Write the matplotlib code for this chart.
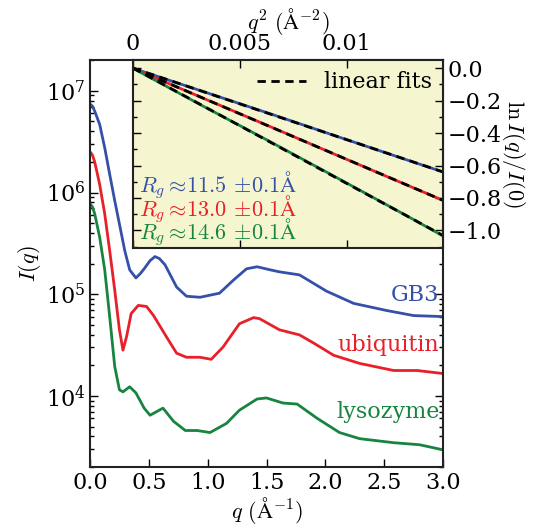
import numpy as np
import matplotlib
matplotlib.use('Agg')
import matplotlib.pyplot as plt
from matplotlib.ticker import FixedLocator, FixedFormatter, LogLocator, MultipleLocator

plt.rcParams['font.family'] = ['DejaVu Serif']
plt.rcParams['mathtext.fontset'] = 'cm'
plt.rcParams['font.size'] = 16

# scattering curves, log10 I(q)
q_gb3 = [0.0, 0.02, 0.04, 0.082, 0.125, 0.167, 0.21, 0.25, 0.295, 0.337, 0.39, 0.425, 0.46, 0.51, 0.552,
         0.59, 0.637, 0.736, 0.82, 0.935, 1.10, 1.22, 1.33, 1.42, 1.53, 1.61, 1.78, 2.01, 2.24, 2.52,
         2.75, 3.0]
logI_gb3 = [6.87, 6.85, 6.80, 6.67, 6.44, 6.18, 5.92, 5.69, 5.43, 5.24, 5.16, 5.20, 5.25, 5.33, 5.37,
            5.35, 5.29, 5.07, 4.98, 4.97, 5.01, 5.14, 5.25, 5.27, 5.24, 5.22, 5.19, 5.03, 4.91, 4.84,
            4.79, 4.78]

q_ubq = [0.0, 0.02, 0.04, 0.082, 0.125, 0.167, 0.21, 0.25, 0.28, 0.31, 0.35, 0.41, 0.48, 0.54, 0.65,
         0.736, 0.82, 0.935, 1.03, 1.13, 1.27, 1.39, 1.44, 1.61, 1.78, 1.90, 2.07, 2.29, 2.58, 2.78, 3.0]
logI_ubq = [6.40, 6.37, 6.30, 6.08, 5.79, 5.43, 5.04, 4.65, 4.45, 4.58, 4.81, 4.89, 4.88, 4.79, 4.58,
            4.42, 4.38, 4.38, 4.36, 4.48, 4.71, 4.77, 4.76, 4.65, 4.60, 4.52, 4.40, 4.32, 4.25, 4.25, 4.22]

q_lys = [0.0, 0.02, 0.04, 0.082, 0.125, 0.167, 0.21, 0.25, 0.28, 0.337, 0.39, 0.46, 0.51, 0.62, 0.71,
         0.81, 0.91, 1.02, 1.16, 1.27, 1.42, 1.50, 1.64, 1.76, 1.93, 2.12, 2.29, 2.58, 2.80, 3.0]
logI_lys = [5.89, 5.86, 5.79, 5.56, 5.24, 4.78, 4.29, 4.06, 4.04, 4.09, 4.03, 3.88, 3.81, 3.88, 3.75,
            3.66, 3.66, 3.64, 3.73, 3.86, 3.97, 3.98, 3.93, 3.92, 3.78, 3.64, 3.58, 3.54, 3.52, 3.47]

# Guinier region, ln I(q)/I(0) vs q^2
q2 = [0.0, 0.0032, 0.0064, 0.0096, 0.0128, 0.0145]
ln_gb3 = [0.0, -0.140, -0.280, -0.423, -0.565, -0.640]
ln_ubq = [0.0, -0.180, -0.359, -0.540, -0.720, -0.815]
ln_lys = [0.0, -0.228, -0.452, -0.680, -0.910, -1.035]

names = ['GB3', 'ubiquitin', 'lysozyme']
rg_text = ['11.5', '13.0', '14.6']
colors = ['#3550a8', '#e8202a', '#17843f']

fig = plt.figure(figsize=(5.39, 5.28), dpi=100)
ax = fig.add_axes([0.167, 0.1155, 0.655, 0.7705])

curves = [(q_gb3, logI_gb3), (q_ubq, logI_ubq), (q_lys, logI_lys)]
for (q, lg), c in zip(curves, colors):
    ax.plot(q, 10 ** np.array(lg), color=c, lw=2, solid_joinstyle='round')

ax.set_yscale('log')
ax.set_xlim(0, 3)
ax.set_ylim(2e3, 2e7)
ax.xaxis.set_major_locator(MultipleLocator(0.5))
ax.yaxis.set_major_locator(LogLocator(base=10, numticks=10))
ax.yaxis.set_minor_locator(LogLocator(base=10, subs=np.arange(2, 10), numticks=20))
ax.tick_params(which='both', direction='in', right=True, top=False, labelsize=16)
ax.tick_params(which='major', length=6, width=1)
ax.tick_params(which='minor', length=3, width=1)
for s in ax.spines.values():
    s.set_linewidth(1.5)
    s.set_color('#222222')
ax.set_xlabel(r'$q\ (\mathrm{\AA}^{-1})$', fontsize=16, labelpad=1)
ax.set_ylabel(r'$I(q)$', fontsize=16, labelpad=2)

label_y = [9.8e4, 3.2e4, 6.9e3]
for n, c, y in zip(names, colors, label_y):
    ax.text(2.97, y, n, color=c, ha='right', va='center', fontsize=16)

# inset
ins = fig.add_axes([0.2468, 0.530, 0.5752, 0.356])
ins.set_facecolor('#f5f5cf')
lins = [ln_gb3, ln_ubq, ln_lys]
for ln, c in zip(lins, colors):
    ins.plot(q2, ln, color=c, lw=2)
xs = np.array([0.0, 0.0145])
for i, ln in enumerate(lins):
    k, b = np.polyfit(q2, ln, 1)
    ins.plot(xs, k * xs + b, color='black', lw=2, ls=(0, (3, 2)),
             label='linear fits' if i == 0 else None)
ins.set_xlim(0, 0.0145)
ins.set_ylim(-1.11, 0.05)
ins.xaxis.set_major_locator(FixedLocator([0, 0.005, 0.01]))
ins.xaxis.set_major_formatter(FixedFormatter(['0', '0.005', '0.01']))
ins.yaxis.set_major_locator(MultipleLocator(0.2))
ins.yaxis.set_minor_locator(MultipleLocator(0.1))
ins.yaxis.set_major_formatter(plt.FuncFormatter(
    lambda v, p: ('%.1f' % v).replace('-', '\u2212') if abs(v) > 1e-9 else '0.0'))
ins.xaxis.tick_top()
ins.xaxis.set_label_position('top')
ins.yaxis.tick_right()
ins.yaxis.set_label_position('right')
ins.tick_params(which='both', direction='in', top=True, bottom=True, left=True, right=True,
                labelsize=16)
ins.tick_params(which='major', length=6, width=1)
ins.tick_params(which='minor', length=3, width=1)
for s in ins.spines.values():
    s.set_linewidth(1.5)
    s.set_color('#222222')
ins.set_xlabel(r'$q^2\ (\mathrm{\AA}^{-2})$', fontsize=16, labelpad=3)
ins.set_ylabel(r'$\ln I(q)/I(0)$', fontsize=16, rotation=270, labelpad=18)
leg = ins.legend(loc='upper right', frameon=False, fontsize=16, handlelength=2.2,
                 borderaxespad=0.1, handletextpad=0.8)

for y, t, c in zip([0.335, 0.21, 0.085], rg_text, colors):
    ins.text(0.02, y, r'$R_g \approx\!%s\,\pm\!0.1\mathrm{\AA}$' % t, color=c,
             transform=ins.transAxes, ha='left', va='center', fontsize=16)

fig.savefig('out.png', dpi=100)
